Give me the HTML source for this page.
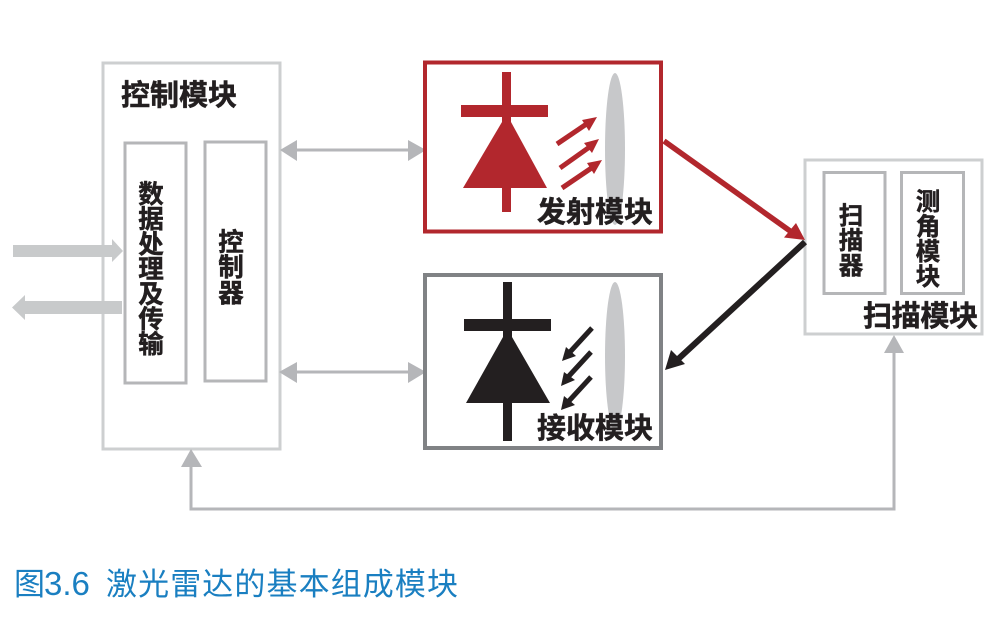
<!DOCTYPE html>
<html><head><meta charset="utf-8"><style>
html,body{margin:0;padding:0;background:#fff;width:1000px;height:630px;overflow:hidden}
svg{display:block}
.t{font-family:"Liberation Sans","Noto Sans CJK SC",sans-serif;font-weight:700;fill:#231f20;stroke:#231f20;stroke-width:.5}
</style></head><body>
<svg width="1000" height="630" viewBox="0 0 1000 630" xmlns="http://www.w3.org/2000/svg">
<rect width="1000" height="630" fill="#fff"/>
<!-- control module -->
<rect x="103" y="63" width="177" height="386" fill="#fff" stroke="#cdcfd0" stroke-width="3"/>
<rect x="125" y="143" width="61" height="240" fill="#fff" stroke="#b5b6b8" stroke-width="3"/>
<rect x="205" y="142" width="61" height="239" fill="#fff" stroke="#b5b6b8" stroke-width="3"/>
<text class="t" x="121" y="105" font-size="29" textLength="116">控制模块</text>
<g class="t" font-size="25.500" text-anchor="middle">
<text x="151" y="203">数</text><text x="151" y="228">据</text><text x="151" y="253">处</text><text x="151" y="278">理</text><text x="151" y="303">及</text><text x="151" y="328">传</text><text x="151" y="353">输</text>
<text x="231" y="251">控</text><text x="231" y="276">制</text><text x="231" y="302">器</text>
</g>
<!-- left thick arrows -->
<path d="M13 245H112V239L123 251L112 262V257H13Z" fill="#c8cacb"/>
<path d="M122 301H25V295L12 307.500L25 320V314H122Z" fill="#c8cacb"/>
<!-- double arrows -->
<g fill="#b5b6b9">
<rect x="295" y="148.500" width="115" height="3"/>
<path d="M280 150L297 140V161Z"/><path d="M426 150L408 140V161Z"/>
<rect x="295" y="370.500" width="115" height="3"/>
<path d="M279 372L297 362V383Z"/><path d="M426 372L408 362V383Z"/>
<path d="M191 449L202 467H181Z"/><path d="M894 335L904 353H884Z"/>
</g>
<path d="M191 465V509H894V351" fill="none" stroke="#b5b6b9" stroke-width="3"/>
<!-- emit module -->
<rect x="425" y="62.500" width="236" height="169" fill="#fff" stroke="#b2272d" stroke-width="4"/>
<g fill="#b2272d">
<rect x="502" y="72" width="9" height="140"/>
<rect x="461" y="105" width="87" height="12"/>
<path d="M502 122L511 122L547 188H463Z"/>
</g>
<ellipse cx="615" cy="149" rx="10" ry="76" fill="#c7c8ca"/>
<g stroke="#b2272d" stroke-width="5" fill="none">
<path d="M557 144L588 123"/><path d="M560 168L591 146"/><path d="M562 188L593 167"/>
</g>
<g fill="#b2272d">
<path d="M597 117L582 120L589 131Z"/><path d="M599 139L584 143L592 153Z"/><path d="M602 160L587 163L594 174Z"/>
</g>
<text class="t" x="537" y="222" font-size="29" textLength="116">发射模块</text>
<!-- receive module -->
<rect x="425" y="275" width="236" height="173" fill="#fff" stroke="#808285" stroke-width="4"/>
<g fill="#231f20">
<rect x="503" y="282" width="9" height="159"/>
<rect x="464" y="319" width="87" height="12"/>
<path d="M503 337L512 337L550 403H466Z"/>
</g>
<ellipse cx="615" cy="356" rx="10" ry="74" fill="#c7c8ca"/>
<g stroke="#231f20" stroke-width="5" fill="none">
<path d="M592 328L570 352"/><path d="M591 352L568 377"/><path d="M591 377L568 402"/>
</g>
<g fill="#231f20">
<path d="M562 361L576 356L566 347Z"/><path d="M561 386L575 380L564 372Z"/><path d="M561 410L575 405L564 396Z"/>
</g>
<text class="t" x="537" y="438" font-size="29" textLength="116">接收模块</text>
<!-- scan module -->
<rect x="805" y="160" width="177" height="174" fill="#fff" stroke="#cdcfd0" stroke-width="3"/>
<rect x="824" y="172.500" width="61" height="121" fill="#fff" stroke="#b5b6b8" stroke-width="3"/>
<rect x="901.500" y="172.500" width="62" height="121" fill="#fff" stroke="#b5b6b8" stroke-width="3"/>
<g class="t" font-size="24.500" text-anchor="middle">
<text x="851" y="224">扫</text><text x="851" y="249">描</text><text x="851" y="274">器</text>
<text x="928" y="210">测</text><text x="928" y="235">角</text><text x="928" y="260">模</text><text x="928" y="285">块</text>
</g>
<text class="t" x="863" y="326" font-size="29" textLength="115">扫描模块</text>
<!-- main diagonal arrows -->
<path d="M664 141L795 234.500" stroke="#b2272d" stroke-width="5.500" fill="none"/>
<path d="M805 240L784 237.500L796 223Z" fill="#b2272d"/>
<path d="M805 242L675 362" stroke="#231f20" stroke-width="6" fill="none"/>
<path d="M665 370L671 350L685 364Z" fill="#231f20"/>
<!-- caption -->
<g font-family="'Liberation Sans','Noto Sans CJK SC',sans-serif" fill="#1a7fc1" font-size="31" font-weight="400">
<text x="14" y="595">图</text>
<text x="44" y="595" font-size="33">3.6</text>
<text x="106" y="595" textLength="352">激光雷达的基本组成模块</text>
</g>
</svg>
</body></html>
